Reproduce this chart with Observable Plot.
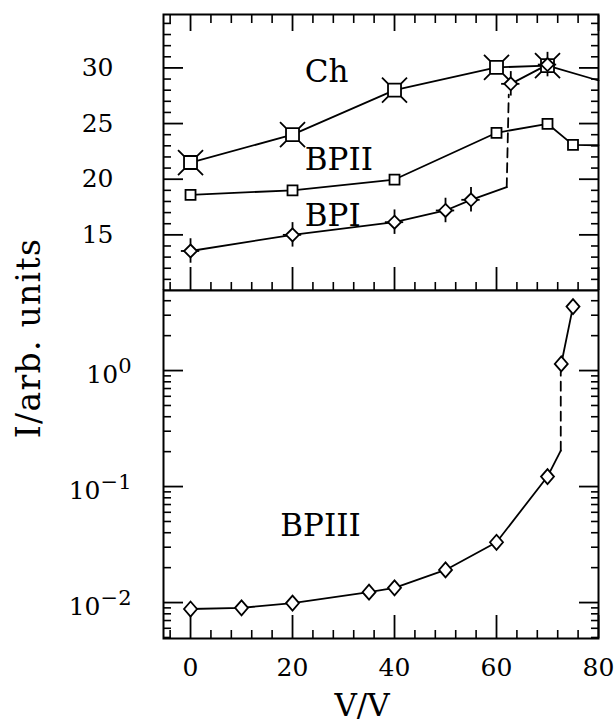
<!DOCTYPE html>
<html>
<head>
<meta charset="utf-8">
<script src="https://cdn.jsdelivr.net/npm/d3@7"></script>
<script src="https://cdn.jsdelivr.net/npm/@observablehq/plot@0.6"></script>
<style>
  html, body { margin: 0; padding: 0; background: #fff; }
  #wrap { position: relative; width: 615px; height: 721px; overflow: hidden; }
  #wrap svg { display: block; }
  #ytitle {
    position: absolute; left: 28px; top: 338px; z-index: 2;
    transform: translate(-50%, -50%) rotate(-90deg);
    font-family: "DejaVu Serif"; font-size: 33px; letter-spacing: 1.3px;
    white-space: nowrap; color: #000; line-height: 1;
  }
</style>
</head>
<body>
<div id="wrap"><div id="ytitle">I/arb. units</div></div>
<script>
// ---------------- data ----------------
const xTicks = [0, 20, 40, 60, 80];
const xMinorTicks = [-4, 4, 8, 12, 16, 24, 28, 32, 36, 44, 48, 52, 56, 64, 68, 72, 76];

// upper panel (linear)
const topYTicks = [15, 20, 25, 30];
const topYMinorTicks = [11, 12, 13, 14, 16, 17, 18, 19, 21, 22, 23, 24, 26, 27, 28, 29, 31, 32, 33, 34];

const chV = [0, 20, 40, 60, 70];
const chI = [21.5, 24.0, 28.0, 30.05, 30.2];
const chEdgeV = [80];          // curve continues to the frame edge
const chEdgeI = [28.87];

const bp2V = [0, 20, 40, 60, 70, 75];
const bp2I = [18.6, 19.0, 19.97, 24.17, 24.98, 23.09];
const bp2EdgeV = [80];
const bp2EdgeI = [23.05];

const bp1V = [0, 20, 40, 50, 55];
const bp1I = [13.55, 15.0, 16.14, 17.19, 18.15];
const bp1YErr = [1.1, 1.1, 1.1, 1.1, 1.1];
const bp1XErr = [1.8, 1.8, 1.8, 1.8, 1.8];
const bp1JumpV = [62, 62.4];   // dashed jump
const bp1JumpI = [19.28, 27.6];
const bp1HighV = [62.8, 70];
const bp1HighI = [28.57, 30.3];
const bp1HighYErr = [1.1, 1.1];
const bp1HighXErr = [1.8, 1.8];

const topLabels = ["Ch", "BPII", "BPI"];
const topLabelV = [22.4, 22.4, 22.4];
const topLabelI = [28.7, 20.8, 15.84];

// lower panel (log)
const logTicks = [0.01, 0.1, 1];
const logTickExp = ["\u22122", "\u22121", "0"];
const logMinorTicks = [0.005, 0.006, 0.007, 0.008, 0.009,
  0.02, 0.03, 0.04, 0.05, 0.06, 0.07, 0.08, 0.09,
  0.2, 0.3, 0.4, 0.5, 0.6, 0.7, 0.8, 0.9,
  2, 3, 4];

const bp3V = [0, 10, 20, 35, 40, 50, 60, 70];
const bp3I = [0.0088, 0.0090, 0.0099, 0.0123, 0.0134, 0.0191, 0.0331, 0.122];
const bp3BreakV = [72.6];
const bp3BreakI = [0.204];
const bp3JumpV = [72.6, 72.6];
const bp3JumpI = [0.204, 0.98];
const bp3HighV = [72.7, 75];
const bp3HighI = [1.14, 3.56];

const botLabels = ["BPIII"];
const botLabelV = [17.6];
const botLabelI = [0.0378];

// ---------------- layout ----------------
const FONT = "DejaVu Serif";
const W = 615, ML = 163, MR = 17;
const TOP_H = 290, TOP_MT = 14;
const BOT_H = 431, BOT_MB = 83;
const xDomain = [-5.3, 80];
const SW = 1.8;

const pts = (V, I, extra = {}) => V.map((v, k) => {
  const o = {v, i: I[k]};
  for (const key in extra) o[key] = extra[key][k];
  return o;
});

// marker symbols
const sqSym = h => ({draw(c) { c.moveTo(-h, -h); c.lineTo(h, -h); c.lineTo(h, h); c.lineTo(-h, h); c.closePath(); }});
const diaSym = (w, h) => ({draw(c) { c.moveTo(0, -h); c.lineTo(w, 0); c.lineTo(0, h); c.lineTo(-w, 0); c.closePath(); }});
const chSym = {draw(c) {
  const s = 6.5, a = 12.5;
  c.moveTo(-s, -s); c.lineTo(s, -s); c.lineTo(s, s); c.lineTo(-s, s); c.closePath();
  for (const [sx, sy] of [[1, 1], [1, -1], [-1, 1], [-1, -1]]) { c.moveTo(sx * s, sy * s); c.lineTo(sx * a, sy * a); }
}};

// inward tick marks drawn by axis marks (negative tickSize, no text)
const inTicks = (k, anchor, values, len, sw) =>
  (k === "y" ? Plot.axisY : Plot.axisX)(values, {anchor, tickSize: -len, fill: "none", label: null, strokeWidth: sw, stroke: "black"});

const tickMarks = (yMajor, yMinor, showTopX, showBottomX) => {
  const m = [
    inTicks("y", "left", yMajor, 20, SW),
    inTicks("y", "right", yMajor, 20, SW),
    inTicks("y", "left", yMinor, 8, 1.6),
    inTicks("y", "right", yMinor, 8, 1.6)
  ];
  if (showTopX) m.push(inTicks("x", "top", xTicks, 16, SW), inTicks("x", "top", xMinorTicks, 8, 1.6));
  if (showBottomX) m.push(inTicks("x", "bottom", xTicks, 23, SW), inTicks("x", "bottom", xMinorTicks, 8, 1.6));
  return m;
};

const lineOpts = {x: "v", y: "i", stroke: "black", strokeWidth: SW};
const dotOpts = (sym) => ({x: "v", y: "i", symbol: sym, r: 5, stroke: "black", fill: "white", strokeWidth: SW});

// ---------------- upper panel ----------------
const bp1Pts = pts(bp1V, bp1I, {e: bp1YErr, xe: bp1XErr});
const bp1HighPts = pts(bp1HighV, bp1HighI, {e: bp1HighYErr, xe: bp1HighXErr});
const bp1ErrPts = bp1Pts.concat(bp1HighPts);

const topChart = Plot.plot({
  width: W, height: TOP_H,
  marginLeft: ML, marginRight: MR, marginTop: TOP_MT, marginBottom: 0,
  style: {fontFamily: FONT, fontSize: "25px", color: "black", background: "white"},
  x: {domain: xDomain},
  y: {domain: [10, 34.8]},
  marks: [
    ...tickMarks(topYTicks, topYMinorTicks, true, true),
    Plot.axisY(topYTicks, {tickSize: 0, tickPadding: 50, fontSize: 25, label: null}),
    Plot.line(pts(chV.concat(chEdgeV), chI.concat(chEdgeI)), lineOpts),
    Plot.line(pts(bp2V.concat(bp2EdgeV), bp2I.concat(bp2EdgeI)), lineOpts),
    Plot.line(pts(bp1V.concat(bp1JumpV.slice(0, 1)), bp1I.concat(bp1JumpI.slice(0, 1))), lineOpts),
    Plot.line(pts(bp1JumpV, bp1JumpI), {...lineOpts, strokeDasharray: "9,6"}),
    Plot.line(bp1HighPts, lineOpts),
    Plot.ruleX(bp1ErrPts, {x: "v", y1: d => d.i - d.e, y2: d => d.i + d.e, stroke: "black", strokeWidth: SW}),
    Plot.ruleY(bp1ErrPts, {y: "i", x1: d => d.v - d.xe, x2: d => d.v + d.xe, stroke: "black", strokeWidth: SW}),
    Plot.dot(pts(chV, chI), dotOpts(chSym)),
    Plot.dot(pts(bp2V, bp2I), dotOpts(sqSym(5))),
    Plot.dot(bp1ErrPts, dotOpts(diaSym(6.5, 6.5))),
    Plot.text(topLabels, {x: topLabelV, y: topLabelI, text: d => d, textAnchor: "start", lineAnchor: "bottom", fontSize: 31, fill: "black"}),
    Plot.frame({stroke: "black", strokeWidth: 2})
  ]
});

// ---------------- lower panel ----------------
const botChart = Plot.plot({
  width: W, height: BOT_H,
  marginLeft: ML, marginRight: MR, marginTop: 0, marginBottom: BOT_MB,
  style: {fontFamily: FONT, fontSize: "25px", color: "black", background: "white", overflow: "visible"},
  x: {domain: xDomain},
  y: {type: "log", domain: [0.0049, 4.9]},
  marks: [
    ...tickMarks(logTicks, logMinorTicks, false, true),
    Plot.axisY(logTicks, {tickSize: 0, tickPadding: 32, fontSize: 25, dy: 4, label: null,
      tickFormat: d => "10^" + logTickExp[logTicks.indexOf(d)]}),
    Plot.axisX(xTicks, {tickSize: 0, tickPadding: 20, fontSize: 25, label: null}),
    Plot.line(pts(bp3V.concat(bp3BreakV), bp3I.concat(bp3BreakI)), lineOpts),
    Plot.line(pts(bp3JumpV, bp3JumpI), {...lineOpts, strokeDasharray: "9,6"}),
    Plot.line(pts(bp3HighV, bp3HighI), lineOpts),
    Plot.dot(pts(bp3V.concat(bp3HighV), bp3I.concat(bp3HighI)), dotOpts(diaSym(6.5, 7.5))),
    Plot.text(botLabels, {x: botLabelV, y: botLabelI, text: d => d, textAnchor: "start", lineAnchor: "bottom", fontSize: 31, fill: "black"}),
    Plot.text(["V/V"], {frameAnchor: "bottom", dy: 77, dx: -19, lineAnchor: "bottom", fontSize: 31, fill: "black"}),
    Plot.frame({stroke: "black", strokeWidth: 2})
  ]
});

// superscript exponents on log tick labels
const NS = "http://www.w3.org/2000/svg";
botChart.querySelectorAll("text").forEach(t => {
  const s = t.textContent;
  if (s.indexOf("^") < 0) return;
  const [base, exp] = s.split("^");
  t.textContent = "";
  const b = document.createElementNS(NS, "tspan");
  b.textContent = base;
  const e = document.createElementNS(NS, "tspan");
  e.setAttribute("dy", "-10");
  e.setAttribute("font-size", "21");
  e.textContent = exp;
  t.append(b, e);
});

const wrap = document.getElementById("wrap");
wrap.insertBefore(botChart, wrap.firstChild);
wrap.insertBefore(topChart, botChart);
</script>
</body>
</html>
